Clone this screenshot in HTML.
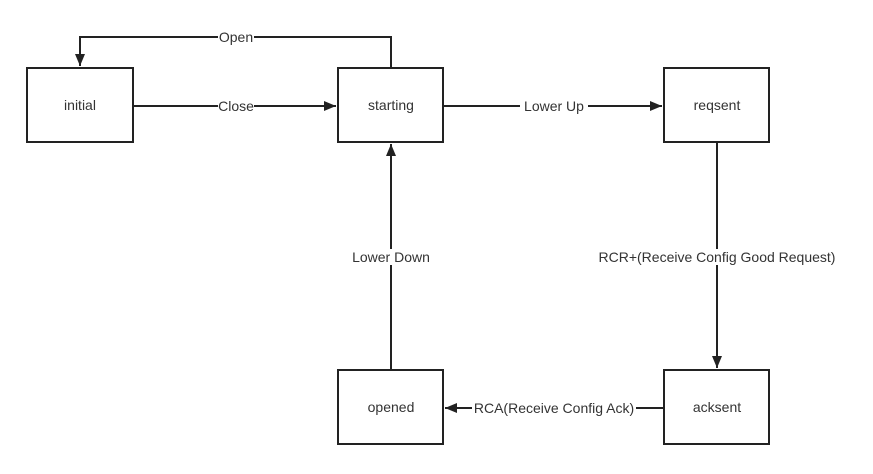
<!DOCTYPE html>
<html><head><meta charset="utf-8"><style>
html,body{margin:0;padding:0;background:#fff;}
svg{display:block;}
text{font-family:"Liberation Sans","Noto Sans CJK SC",sans-serif;font-size:14px;fill:#333;text-anchor:middle;dominant-baseline:central;}
</style></head><body>
<svg width="873" height="474" viewBox="0 0 873 474" xmlns="http://www.w3.org/2000/svg">
<defs><marker id="a" markerWidth="12" markerHeight="10" refX="12" refY="5" orient="auto" markerUnits="userSpaceOnUse"><path d="M0,0 L12,5 L0,10 Z" fill="#222"/></marker></defs>
<g fill="none" stroke="#222" stroke-width="2">
<rect x="27" y="68" width="106" height="74"/>
<rect x="338" y="68" width="105" height="74"/>
<rect x="664" y="68" width="105" height="74"/>
<rect x="338" y="370" width="105" height="74"/>
<rect x="664" y="370" width="105" height="74"/>
<polyline points="391,68 391,37 80,37 80,66" marker-end="url(#a)"/>
<line x1="133" y1="106" x2="336" y2="106" marker-end="url(#a)"/>
<line x1="443" y1="106" x2="662" y2="106" marker-end="url(#a)"/>
<line x1="717" y1="142" x2="717" y2="368" marker-end="url(#a)"/>
<line x1="664" y1="408" x2="445" y2="408" marker-end="url(#a)"/>
<line x1="391" y1="370" x2="391" y2="144" marker-end="url(#a)"/>
</g>
<g fill="#fff">
<rect x="218" y="29" width="36" height="16"/>
<rect x="218" y="98" width="36" height="16"/>
<rect x="520" y="98" width="68" height="16"/>
<rect x="598" y="249" width="239" height="16"/>
<rect x="472" y="400" width="164" height="16"/>
<rect x="348" y="249" width="86" height="16"/>
</g>
<text x="236" y="37">Open</text>
<text x="236" y="106">Close</text>
<text x="554" y="106">Lower Up</text>
<text x="717" y="257">RCR+(Receive Config Good Request)</text>
<text x="554" y="408">RCA(Receive Config Ack)</text>
<text x="391" y="257">Lower Down</text>
<text x="80" y="105">initial</text>
<text x="391" y="105">starting</text>
<text x="717" y="105">reqsent</text>
<text x="391" y="407">opened</text>
<text x="717" y="407">acksent</text>
</svg>
</body></html>
